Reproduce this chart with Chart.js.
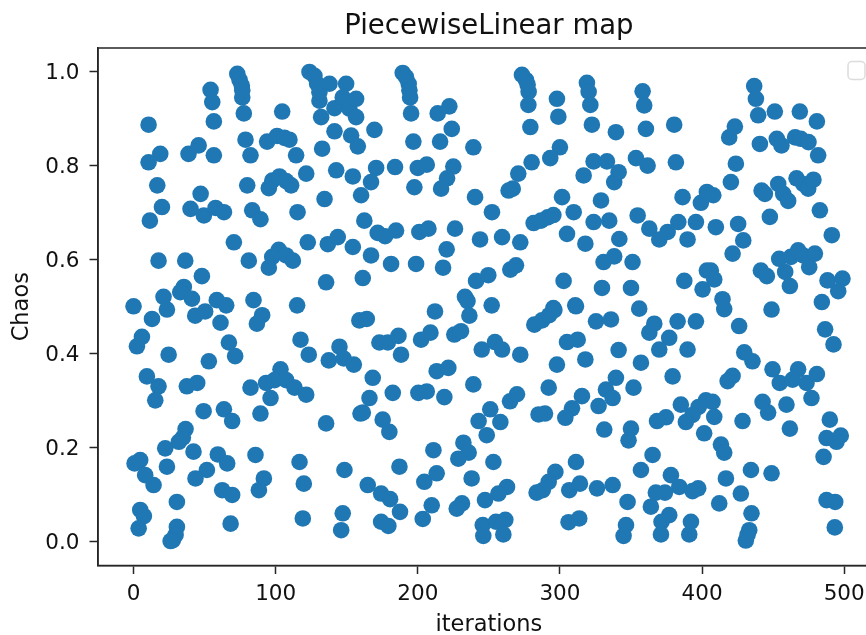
<!DOCTYPE html>
<html>
<head>
<meta charset="utf-8">
<style>
  html, body { margin: 0; background: #fff; overflow: hidden; }
  #wrap { width: 866px; height: 635px; overflow: hidden; }
  canvas { display: block; }
</style>
</head>
<body>
<div id="wrap"><canvas id="chart" width="888" height="639"></canvas></div>
<script src="https://cdn.jsdelivr.net/npm/chart.js@4/dist/chart.umd.min.js"></script>
<script>
const chartTitle = "PiecewiseLinear map";
const xLabel = "iterations";
const yLabel = "Chaos";
const xTicks = [0, 100, 200, 300, 400, 500];
const yTicks = [0, 0.2, 0.4, 0.6, 0.8, 1];

// meme ordre dans les deux tableaux
const iterations = [
  73,74.6,76.2,76.5,76.5,54.2,55.4,56.5,77.6,10.6,
  104.6,78.8,94,101,106.2,109.7,114.4,82.3,56.5,45.8,
  38.7,18.8,10.6,16.7,47.2,40.1,49.5,57.7,63.6,20,
  11.5,80,95.2,97.6,102.7,107.4,110.9,121.5,83.5,89.3,
  115.4,134.4,142.6,154.3,132.7,141.4,153.1,157.8,132,141.4,
  130.8,123.8,127.3,129.2,130.8,137.9,149.6,147.2,151.9,156.6,
  70.6,122.6,136.7,143.7,154.3,102.2,97.6,95.2,107.4,112.1,
  81.1,17.6,36.4,48.1,135.5,35.4,32.9,41.1,21.1,58.6,
  65.2,84.4,115.1,0,
  23.5,13,43.4,50.4,61.2,90.5,86.8,67.1,71.5,117.5,
  123.3,137.4,144.9,147.9,155,5.9,2.4,24.7,53,9.4,
  17.6,15.3,37.5,44.8,82.3,93.3,103.4,99.2,107.4,113.3,
  121.5,96.4,49.3,63.6,69.4,89.3,135.5,36.6,31.9,34.7,
  22.3,42.2,59.3,65.9,85.8,4.7,0.75,8.2,14.1,23.5,
  51.6,43.6,91.7,88.2,62.4,69.4,116.8,119.8,148.4,30.5,
  4.7,7.3,3.6,30.5,29.6,27.7,26.1,68.3,119.1,147.2,
  146.1,159.7,158.9,
  156.6,169.5,189.4,191.7,193.6,194.1,194.6,195.3,214,222.2,
  223.9,215.7,196.9,239.1,170.7,184,200,206.3,225,220.6,
  216.4,197.6,167.1,160.1,240.3,252.2,162.4,171.8,177,184.7,
  201.1,207.5,226.2,243.8,259.3,272.1,220.3,167.1,181.2,198.8,
  217.8,161.3,241,249.6,265.1,269.1,233.2,235,212.1,252,
  302.6,329.6,310.8,295.4,273.3,276.1,277.3,278,277.8,279.2,
  297.9,298.9,319,320.2,321.4,322.5,339.4,300,293.2,280.1,
  270.7,266.8,263.9,316.7,323.7,333.1,338.2,341.3,301.5,309.7,
  328.9,323.7,334.7,281.5,286.7,291.4,295.4,305,317.9,330.7,
  338.2,341.8,
  164.1,236.3,173,178.9,186.4,188.2,202.3,208.9,225.7,230.4,
  245,254.3,259.3,272.1,282,287.4,292.5,296.1,311.3,325.4,
  335.9,305,312.5,297.9,317.9,341.3,168.3,166,161.3,175.3,
  180,182.4,200.4,206.3,218.7,213.3,221.5,239.1,292.1,251,
  242.8,258.1,248.5,264.9,269.8,285,289.5,315.5,308.5,303.8,
  327.2,332.4,337.1,339.4,331.2,232.1,235.8,228.5,211,187.1,
  253.2,213.3,204.6,237.9,164.8,174.2,180.5,187.5,262.8,256.7,
  247.3,231.1,227.4,209.8,203.5,174.2,179.3,245.7,246.1,255,
  261.6,260.2,311.3,296.8,292.1,287.9,283.6,306.6,314.1,326.1,
  337.1,306.1,313.6,
  358.2,359.3,360.5,380.4,353.5,361.7,381.6,386.3,354.7,362.9,
  369.9,375.8,383.3,395.7,409.7,389.8,399.2,403.4,407.9,420.3,
  423.8,419.1,423.1,436.7,437.9,439.5,451.2,468.8,480.8,440.7,
  452.6,455.9,465.5,469.5,474.9,481.7,441.9,444.2,453.6,457.1,
  460.6,466.5,471.2,474.7,478.4,482.9,447.7,425.4,429,421.5,
  491.3,351.1,350,355.8,387.5,400.4,403.4,406.2,408.6,414.4,
  415.6,454.3,458.5,461.8,462.5,467.6,471.2,475.4,479.4,441.4,
  445.6,488.3,498.8,495.8,484.3,448.9,
  366.4,362.9,382.8,395.7,376.9,369.9,389.8,357,426.1,486.6,
  492.5,429.7,435.5,449.6,467.6,454.7,463.7,473.5,480.8,477,
  421.5,418,379.3,351.8,385.1,442.6,446.5,459.4,402.7,407.4,
  397.6,393.3,388.6,408.6,374.6,368.3,428.5,461.8,350,348.3,
  489.9,487.6,494.6,497.6,485.5,401.5,413.3,415.6,365.2,357,
  378.1,384,416.8,434.4,448.9,367.5,373.9,393.3,397.3,427.3,
  347.6,364,412.1,376.9,371.5,371.1,392.2,391,346.5,344.8,
  434.8,433.2,432,430.8,487.6,493.7,493.4
];
const chaos = [
  .995,.982,.970,.960,.945,.961,.935,.894,.911,.887,
  .915,.855,.851,.863,.859,.855,.822,.822,.822,.843,
  .825,.825,.807,.758,.740,.708,.694,.710,.701,.712,
  .683,.758,.752,.768,.777,.767,.758,.783,.705,.686,
  .701,.729,.790,.777,.836,.873,.864,.841,.903,.922,
  .938,.999,.991,.974,.956,.974,.974,.945,.921,.903,
  .637,.637,.633,.648,.627,.621,.606,.583,.609,.598,
  .598,.598,.598,.565,.552,.542,.531,.517,.521,.514,
  .503,.514,.503,.501,
  .494,.474,.481,.490,.466,.482,.464,.424,.395,.430,
  .398,.386,.415,.390,.377,.436,.416,.398,.384,.352,
  .331,.301,.331,.338,.328,.338,.367,.344,.344,.328,
  .313,.306,.278,.282,.257,.273,.252,.240,.213,.222,
  .199,.192,.186,.167,.185,.174,.167,.142,.121,.160,
  .153,.135,.135,.110,.110,.100,.170,.124,.153,.085,
  .068,.055,.029,.032,.015,.004,.002,.039,.050,.061,
  .025,.273,.471,
  .942,.876,.997,.988,.974,.960,.945,.911,.911,.926,
  .878,.851,.851,.839,.795,.797,.795,.802,.798,.773,
  .751,.754,.765,.737,.733,.701,.683,.657,.650,.662,
  .659,.666,.666,.643,.648,.637,.622,.609,.591,.591,
  .583,.561,.555,.567,.579,.588,.521,.512,.490,.503,
  .555,.540,.503,.497,.993,.982,.972,.957,.929,.882,
  .942,.904,.976,.957,.929,.887,.871,.839,.816,.807,
  .783,.751,.747,.779,.809,.809,.765,.786,.733,.701,
  .726,.680,.683,.678,.683,.690,.695,.655,.634,.595,
  .607,.644,
  .474,.481,.424,.424,.438,.398,.430,.445,.441,.448,
  .409,.425,.409,.398,.462,.471,.482,.493,.501,.469,
  .473,.425,.430,.377,.388,.408,.349,.306,.275,.260,
  .234,.317,.317,.320,.308,.363,.370,.335,.328,.282,
  .257,.255,.227,.299,.314,.271,.273,.310,.284,.264,
  .289,.324,.306,.349,.239,.211,.190,.177,.195,.160,
  .170,.146,.128,.135,.121,.103,.091,.064,.117,.103,
  .089,.082,.071,.078,.049,.043,.034,.036,.013,.043,
  .047,.016,.170,.149,.128,.110,.105,.110,.124,.114,
  .121,.042,.050,
  .958,.928,.878,.887,.816,.800,.807,.733,.694,.666,
  .643,.659,.680,.680,.669,.643,.721,.744,.737,.765,
  .804,.860,.883,.969,.942,.907,.915,.915,.894,.846,
  .857,.843,.860,.857,.850,.822,.747,.740,.761,.740,
  .725,.773,.761,.751,.770,.705,.691,.676,.641,.613,
  .652,.595,.540,.496,.555,.537,.577,.577,.558,.516,
  .495,.602,.574,.544,.606,.620,.609,.584,.613,.577,
  .565,.556,.560,.533,.510,.494,
  .464,.445,.469,.469,.434,.409,.409,.381,.459,.452,
  .420,.403,.384,.367,.367,.338,.345,.338,.357,.306,
  .353,.342,.352,.328,.292,.298,.275,.292,.301,.298,
  .287,.270,.255,.266,.265,.257,.257,.241,.241,.216,
  .260,.221,.213,.226,.181,.231,.207,.190,.185,.153,
  .142,.117,.135,.153,.146,.105,.105,.108,.114,.103,
  .085,.075,.082,.057,.043,.016,.043,.016,.036,.013,
  .061,.025,.015,.003,.089,.085,.031
];

const points = iterations.map((x, i) => ({ x: x, y: chaos[i] }));

// cadre complet + legende vide (matplotlib sans label)
const cadrePlugin = {
  id: "cadre",
  afterDraw(chart) {
    const { ctx, chartArea: a } = chart;
    ctx.save();
    ctx.strokeStyle = "#262626";
    ctx.lineWidth = 1.5;
    ctx.strokeRect(a.left, a.top, a.right - a.left, a.bottom - a.top);
    ctx.strokeStyle = "#dcdcdc";
    ctx.lineWidth = 1.5;
    ctx.beginPath();
    ctx.roundRect(848, 61.5, 17, 18, 4);
    ctx.stroke();
    ctx.restore();
  },
};

const tickFont = { family: "'DejaVu Sans'", size: 21.5 };
const labelFont = { family: "'DejaVu Sans'", size: 22.5 };

new Chart(document.getElementById("chart"), {
  type: "scatter",
  data: {
    datasets: [
      {
        data: points,
        backgroundColor: "#1f77b4",
        borderColor: "#1f77b4",
        pointRadius: 8.3,
        borderWidth: 0,
      },
    ],
  },
  plugins: [cadrePlugin],
  options: {
    responsive: false,
    animation: false,
    layout: { padding: 0 },
    plugins: {
      legend: { display: false },
      tooltip: { enabled: false },
      title: {
        display: true,
        text: chartTitle,
        fullSize: false,
        color: "#111",
        font: { family: "'DejaVu Sans'", size: 27.5, weight: "normal" },
        padding: { top: 10, bottom: 5 },
      },
    },
    scales: {
      x: {
        type: "linear",
        min: -25,
        max: 525,
        afterBuildTicks: (s) => { s.ticks = xTicks.map((v) => ({ value: v })); },
        afterFit: (s) => { s.height = 73.5; },
        grid: { drawOnChartArea: false, tickLength: 8.5, tickColor: "#262626", tickWidth: 1.5 },
        border: { color: "#262626", width: 1.5 },
        ticks: { color: "#111", font: tickFont, padding: 8, maxRotation: 0, autoSkip: false },
        title: { display: true, text: xLabel, color: "#111", font: labelFont, padding: { top: 0, bottom: 0 } },
      },
      y: {
        type: "linear",
        min: -0.05,
        max: 1.05,
        afterBuildTicks: (s) => { s.ticks = yTicks.map((v) => ({ value: v })); },
        afterFit: (s) => { s.width = 98; },
        grid: { drawOnChartArea: false, tickLength: 8.5, tickColor: "#262626", tickWidth: 1.5 },
        border: { color: "#262626", width: 1.5 },
        ticks: { color: "#111", font: tickFont, padding: 10, labelOffset: 1.5, autoSkip: false, callback: (v) => v.toFixed(1) },
        title: { display: true, text: yLabel, color: "#111", font: labelFont, padding: { top: 9, bottom: 0 } },
      },
    },
  },
});
</script>
</body>
</html>
